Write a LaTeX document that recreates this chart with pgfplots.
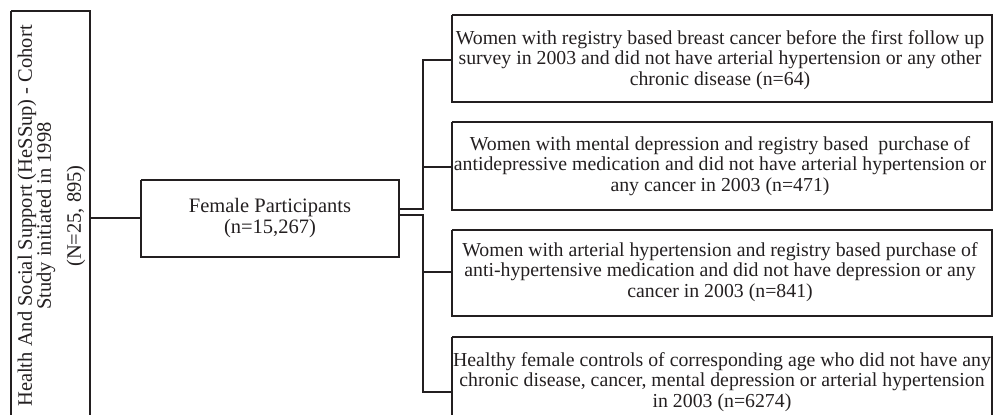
\documentclass[border=0pt]{standalone}
\usepackage{pgfplots}
\pgfplotsset{compat=1.18}
\usepackage{fontspec}
\setmainfont{Liberation Serif}
\definecolor{ink}{RGB}{35,31,32}

\begin{document}
\begin{tikzpicture}[
  txt/.style={font=\fontsize{19.8}{20.5}\selectfont, align=center, text=ink, inner sep=0pt},
  big/.style={font=\fontsize{20.5}{20.5}\selectfont, align=center, text=ink, inner sep=0pt}
]
\begin{axis}[
  width=994pt, height=415pt, scale only axis,
  xmin=0, xmax=994, ymin=0, ymax=415, y dir=reverse,
  hide axis,
  ln/.style={ink, solid, line width=1.4pt, mark=none}
]
% frame for the bounding box
\addplot[draw=none] coordinates {(0,0) (994,415)};

% boxes
\addplot[ln] coordinates {(11,11) (90,11) (90,425) (11,425) (11,11)};
\addplot[ln] coordinates {(141,180) (399,180) (399,257) (141,257) (141,180)};
\addplot[ln] coordinates {(452,15) (992,15) (992,102) (452,102) (452,15)};
\addplot[ln] coordinates {(452,122) (992,122) (992,210) (452,210) (452,122)};
\addplot[ln] coordinates {(452,230) (992,230) (992,316) (452,316) (452,230)};
\addplot[ln] coordinates {(452,337) (992,337) (992,425) (452,425) (452,337)};

% connectors
\addplot[ln] coordinates {(90,218) (141,218)};
\addplot[ln] coordinates {(399,209) (423,209) (423,60) (452,60)};
\addplot[ln] coordinates {(423,167) (452,167)};
\addplot[ln] coordinates {(399,215) (423,215) (423,392) (452,392)};
\addplot[ln] coordinates {(423,272) (452,272)};

% texts
\node[big, rotate=90] at (axis cs:27,216) {Health And Social Support (HeSSup) - Cohort};
\node[big, rotate=90] at (axis cs:46,216) {Study initiated in 1998};
\node[big, rotate=90] at (axis cs:76,216) {(N=25, 895)};
\node[big] at (axis cs:270,218) {Female Participants\\(n=15,267)};
\node[txt] at (axis cs:720,60) {Women with registry based breast cancer before the first follow up\\survey in 2003 and did not have arterial hypertension or any other\\chronic disease (n=64)};
\node[txt] at (axis cs:720,166) {Women with mental depression and registry based\ \ purchase of\\antidepressive medication and did not have arterial hypertension or\\any cancer in 2003 (n=471)};
\node[txt] at (axis cs:720,272) {Women with arterial hypertension and registry based purchase of\\anti-hypertensive medication and did not have depression or any\\cancer in 2003 (n=841)};
\node[txt] at (axis cs:722,382) {Healthy female controls of corresponding age who did not have any\\chronic disease, cancer, mental depression or arterial hypertension\\in 2003 (n=6274)};
\end{axis}
\end{tikzpicture}
\end{document}
